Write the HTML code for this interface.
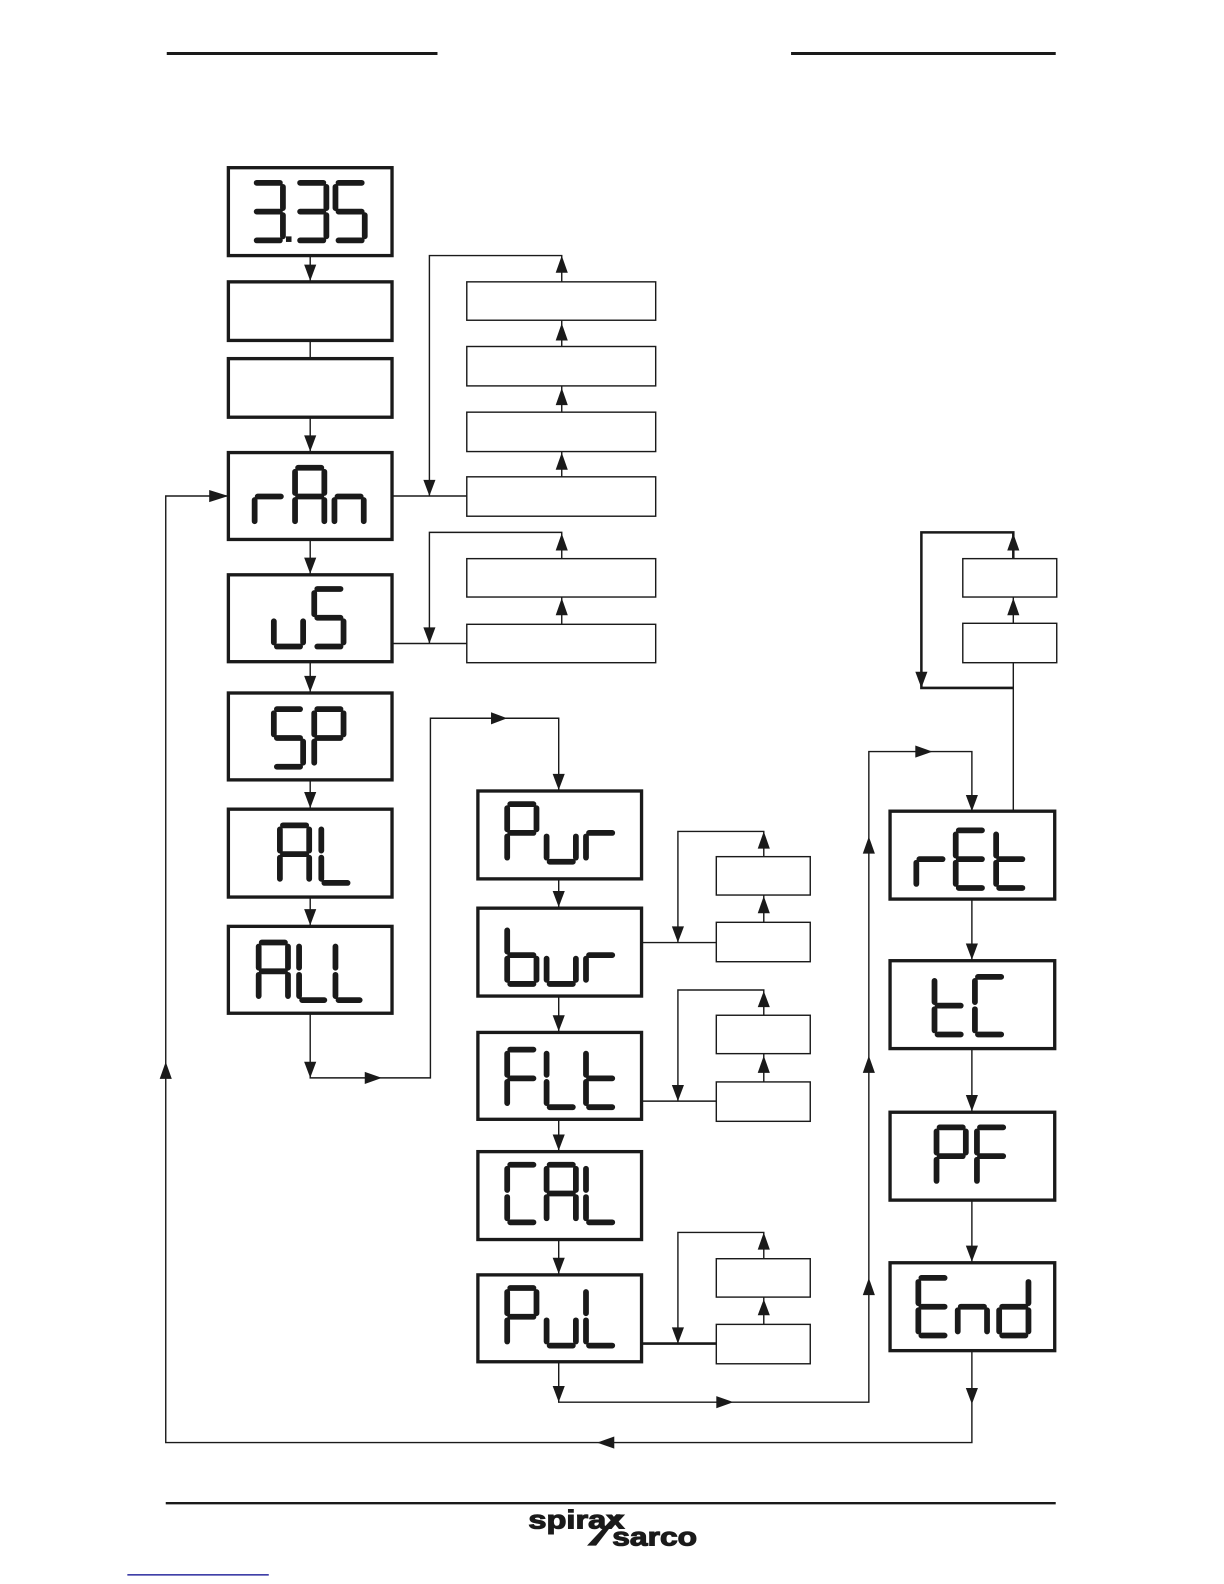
<!DOCTYPE html>
<html lang="en"><head><meta charset="utf-8"><title>Menu flow diagram</title>
<style>
html,body{margin:0;padding:0;background:#fff}
svg{display:block;width:1224px;height:1584px}
.b{fill:none;stroke:#1a1a1a;stroke-width:3.3}
.t{fill:none;stroke:#1a1a1a;stroke-width:1.4}
.l{fill:none;stroke:#1a1a1a;stroke-width:1.4}
.k{fill:none;stroke:#1a1a1a;stroke-width:2.5}
.h{fill:#1a1a1a;stroke:none}
.s{fill:none;stroke:#1a1a1a;stroke-width:5.7;stroke-linecap:round}
</style></head><body>
<svg xmlns="http://www.w3.org/2000/svg" viewBox="0 0 1211.5 1568" width="1224" height="1584">
<rect width="1211.5" height="1568" fill="#fff"/>
<!-- rules -->
<path d="M165 53H433M783 53H1045" fill="none" stroke="#1a1a1a" stroke-width="3"/>
<path d="M164 1488H1045" fill="none" stroke="#1a1a1a" stroke-width="2.4"/>
<path d="M126 1559H266" fill="none" stroke="#00008b" stroke-width="1.2"/>
<!-- logo -->
<text x="523" y="1513" font-family="Liberation Sans, sans-serif" font-weight="700" font-size="26" textLength="95" lengthAdjust="spacingAndGlyphs" fill="#1a1a1a" stroke="#1a1a1a" stroke-width="1.1">spirax</text>
<text x="606" y="1530" font-family="Liberation Sans, sans-serif" font-weight="700" font-size="26" textLength="84" lengthAdjust="spacingAndGlyphs" fill="#1a1a1a" stroke="#1a1a1a" stroke-width="1.1">sarco</text>
<polygon class="h" points="581,1530 590,1530 614,1499 610,1499"/>
<!-- heavy boxes -->
<g class="b">
<rect x="226" y="166" width="162" height="87"/>
<rect x="226" y="279" width="162" height="58"/>
<rect x="226" y="355" width="162" height="58"/>
<rect x="226" y="448" width="162" height="86"/>
<rect x="226" y="569" width="162" height="86"/>
<rect x="226" y="686" width="162" height="86"/>
<rect x="226" y="801" width="162" height="87"/>
<rect x="226" y="917" width="162" height="86"/>
<rect x="473" y="783" width="162" height="87"/>
<rect x="473" y="899" width="162" height="87"/>
<rect x="473" y="1022" width="162" height="86"/>
<rect x="473" y="1140" width="162" height="87"/>
<rect x="473" y="1262" width="162" height="86"/>
<rect x="881" y="803" width="163" height="87"/>
<rect x="881" y="951" width="163" height="87"/>
<rect x="881" y="1101" width="163" height="87"/>
<rect x="881" y="1250" width="163" height="87"/>
</g>
<!-- light boxes -->
<g class="t">
<rect x="462" y="279" width="187" height="38"/>
<rect x="462" y="343" width="187" height="39"/>
<rect x="462" y="408" width="187" height="39"/>
<rect x="462" y="472" width="187" height="39"/>
<rect x="462" y="553" width="187" height="38"/>
<rect x="462" y="618" width="187" height="38"/>
<rect x="709" y="848" width="93" height="38"/>
<rect x="709" y="913" width="93" height="39"/>
<rect x="709" y="1005" width="93" height="38"/>
<rect x="709" y="1071" width="93" height="39"/>
<rect x="709" y="1246" width="93" height="38"/>
<rect x="709" y="1311" width="93" height="39"/>
<rect x="953" y="553" width="93" height="38"/>
<rect x="953" y="617" width="93" height="39"/>
</g>
<!-- connectors -->
<g class="l">
<path d="M307 253V279M307 337V355M307 413V448M307 534V569M307 655V686M307 772V801M307 888V917"/>
<path d="M307 1003V1067H426V711H553V783"/>
<path d="M389 491H462M425 491V253H556V279M556 343V317M556 408V382M556 472V447"/>
<path d="M389 637H462M425 637V527H556V553M556 618V591"/>
<path d="M226 491H164V1428H962V1337"/>
<path d="M553 870V899M553 986V1022M553 1108V1140M553 1227V1262"/>
<path d="M636 933H709M671 933V823H756V848M756 913V886"/>
<path d="M636 1090H709M671 1090V980H756V1005M756 1071V1043"/>
<path d="M671 1330V1220H756V1246M756 1311V1284"/>
<path d="M553 1348V1388H860V744H962V803"/>
<path d="M962 890V951M962 1038V1101M962 1188V1250"/>
<path d="M1003 803V656M1003 617V591"/>
</g>
<path class="k" d="M636 1330H709"/>
<path class="k" d="M1003 681H912V527H1003V553"/>
<!-- arrowheads -->
<g class="h">
<polygon points="301,262 313,262 307,278"/>
<polygon points="301,431 313,431 307,447"/>
<polygon points="301,552 313,552 307,568"/>
<polygon points="301,669 313,669 307,685"/>
<polygon points="301,784 313,784 307,800"/>
<polygon points="301,900 313,900 307,916"/>
<polygon points="301,1051 313,1051 307,1067"/>
<polygon points="361,1061 361,1073 378,1067"/>
<polygon points="486,705 486,717 502,711"/>
<polygon points="547,766 559,766 553,782"/>
<polygon points="207,485 207,497 226,491"/>
<polygon points="158,1068 170,1068 164,1051"/>
<polygon points="608,1422 608,1434 591,1428"/>
<polygon points="956,1374 968,1374 962,1390"/>
<polygon points="419,475 431,475 425,491"/>
<polygon points="550,270 562,270 556,253"/>
<polygon points="550,337 562,337 556,320"/>
<polygon points="550,401 562,401 556,384"/>
<polygon points="550,465 562,465 556,448"/>
<polygon points="419,621 431,621 425,637"/>
<polygon points="550,545 562,545 556,528"/>
<polygon points="550,609 562,609 556,592"/>
<polygon points="906,665 918,665 912,681"/>
<polygon points="997,545 1009,545 1003,528"/>
<polygon points="997,609 1009,609 1003,592"/>
<polygon points="547,882 559,882 553,898"/>
<polygon points="547,1005 559,1005 553,1021"/>
<polygon points="547,1123 559,1123 553,1139"/>
<polygon points="547,1245 559,1245 553,1261"/>
<polygon points="547,1372 559,1372 553,1388"/>
<polygon points="709,1382 709,1394 726,1388"/>
<polygon points="665,917 677,917 671,933"/>
<polygon points="750,840 762,840 756,823"/>
<polygon points="750,904 762,904 756,887"/>
<polygon points="665,1074 677,1074 671,1090"/>
<polygon points="750,997 762,997 756,981"/>
<polygon points="750,1062 762,1062 756,1045"/>
<polygon points="665,1314 677,1314 671,1330"/>
<polygon points="750,1237 762,1237 756,1220"/>
<polygon points="750,1302 762,1302 756,1286"/>
<polygon points="854,845 866,845 860,828"/>
<polygon points="854,1062 866,1062 860,1045"/>
<polygon points="854,1282 866,1282 860,1265"/>
<polygon points="906,738 906,750 923,744"/>
<polygon points="956,787 968,787 962,803"/>
<polygon points="956,934 968,934 962,950"/>
<polygon points="956,1084 968,1084 962,1100"/>
<polygon points="956,1233 968,1233 962,1249"/>
</g>
<!-- seven-segment readouts -->
<g class="s">
<g><title>3.35</title>
<path transform="translate(251,181)" d="M3 0H26M29 4V25M29 32V53M3 57H26M3 28.5H26"/>
<rect x="283" y="234" width="5.5" height="5.5" fill="#1a1a1a" stroke="none"/>
<path transform="translate(294,181)" d="M3 0H26M29 4V25M29 32V53M3 57H26M3 28.5H26"/>
<path transform="translate(332,181)" d="M3 0H26M0 4V25M3 28.5H26M29 32V53M3 57H26"/></g>
<g><title>rAn</title>
<path transform="translate(252,463)" d="M3 28.5H26M0 32V53"/>
<path transform="translate(292,463)" d="M3 0H26M29 4V25M29 32V53M0 32V53M0 4V25M3 28.5H26"/>
<path transform="translate(331,463)" d="M3 28.5H26M29 32V53M0 32V53"/></g>
<g><title>uS</title>
<path transform="translate(271,583)" d="M0 32V53M29 32V53M3 57H26"/>
<path transform="translate(311,583)" d="M3 0H26M0 4V25M3 28.5H26M29 32V53M3 57H26"/></g>
<g><title>SP</title>
<path transform="translate(271,702)" d="M3 0H26M0 4V25M3 28.5H26M29 32V53M3 57H26"/>
<path transform="translate(311,702)" d="M3 0H26M29 4V25M0 4V25M3 28.5H26M0 32V53"/></g>
<g><title>AL</title>
<path transform="translate(277,817)" d="M3 0H26M29 4V25M29 32V53M0 32V53M0 4V25M3 28.5H26"/>
<path transform="translate(318,817)" d="M0 4V25M0 32V53M3 57H26"/></g>
<g><title>ALL</title>
<path transform="translate(256,933)" d="M3 0H26M29 4V25M29 32V53M0 32V53M0 4V25M3 28.5H26"/>
<path transform="translate(296,933)" d="M0 4V25M0 32V53M3 57H25"/>
<path transform="translate(332,933)" d="M0 4V25M0 32V53M3 57H24"/></g>
<g><title>Pur</title>
<path transform="translate(502,796)" d="M3 0H26M29 4V25M0 4V25M3 28.5H26M0 32V53"/>
<path transform="translate(541,796)" d="M0 32V53M29 32V53M3 57H26"/>
<path transform="translate(580,796)" d="M3 28.5H26M0 32V53"/></g>
<g><title>bur</title>
<path transform="translate(502,917)" d="M0 4V25M0 32V53M3 28.5H26M29 32V53M3 57H26"/>
<path transform="translate(541,917)" d="M0 32V53M29 32V53M3 57H26"/>
<path transform="translate(580,917)" d="M3 28.5H26M0 32V53"/></g>
<g><title>FLt</title>
<path transform="translate(502,1039)" d="M3 0H26M0 4V25M3 28.5H26M0 32V53"/>
<path transform="translate(541,1039)" d="M0 4V25M0 32V53M3 57H26"/>
<path transform="translate(580,1039)" d="M0 4V25M0 32V53M3 28.5H26M3 57H26"/></g>
<g><title>CAL</title>
<path transform="translate(502,1153)" d="M3 0H26M0 4V25M0 32V53M3 57H26"/>
<path transform="translate(541,1153)" d="M3 0H26M29 4V25M29 32V53M0 32V53M0 4V25M3 28.5H26"/>
<path transform="translate(580,1153)" d="M0 4V25M0 32V53M3 57H26"/></g>
<g><title>PuL</title>
<path transform="translate(502,1275)" d="M3 0H26M29 4V25M0 4V25M3 28.5H26M0 32V53"/>
<path transform="translate(541,1275)" d="M0 32V53M29 32V53M3 57H26"/>
<path transform="translate(580,1275)" d="M0 4V25M0 32V53M3 57H26"/></g>
<g><title>rEt</title>
<path transform="translate(907,822)" d="M3 28.5H26M0 32V53"/>
<path transform="translate(946,822)" d="M3 0H26M0 4V25M3 28.5H26M0 32V53M3 57H26"/>
<path transform="translate(986,822)" d="M0 4V25M0 32V53M3 28.5H26M3 57H26"/></g>
<g><title>tC</title>
<path transform="translate(925,967)" d="M0 4V25M0 32V53M3 28.5H26M3 57H26"/>
<path transform="translate(965,967)" d="M3 0H26M0 4V25M0 32V53M3 57H26"/></g>
<g><title>PF</title>
<path transform="translate(927,1116)" d="M3 0H26M29 4V25M0 4V25M3 28.5H26M0 32V53"/>
<path transform="translate(967,1116)" d="M3 0H26M0 4V25M3 28.5H26M0 32V53"/></g>
<g><title>End</title>
<path transform="translate(909,1265)" d="M3 0H26M0 4V25M3 28.5H26M0 32V53M3 57H26"/>
<path transform="translate(948,1265)" d="M3 28.5H26M29 32V53M0 32V53"/>
<path transform="translate(989,1265)" d="M29 4V25M29 32V53M3 28.5H26M0 32V53M3 57H26"/></g>
</g>
</svg>
</body></html>
